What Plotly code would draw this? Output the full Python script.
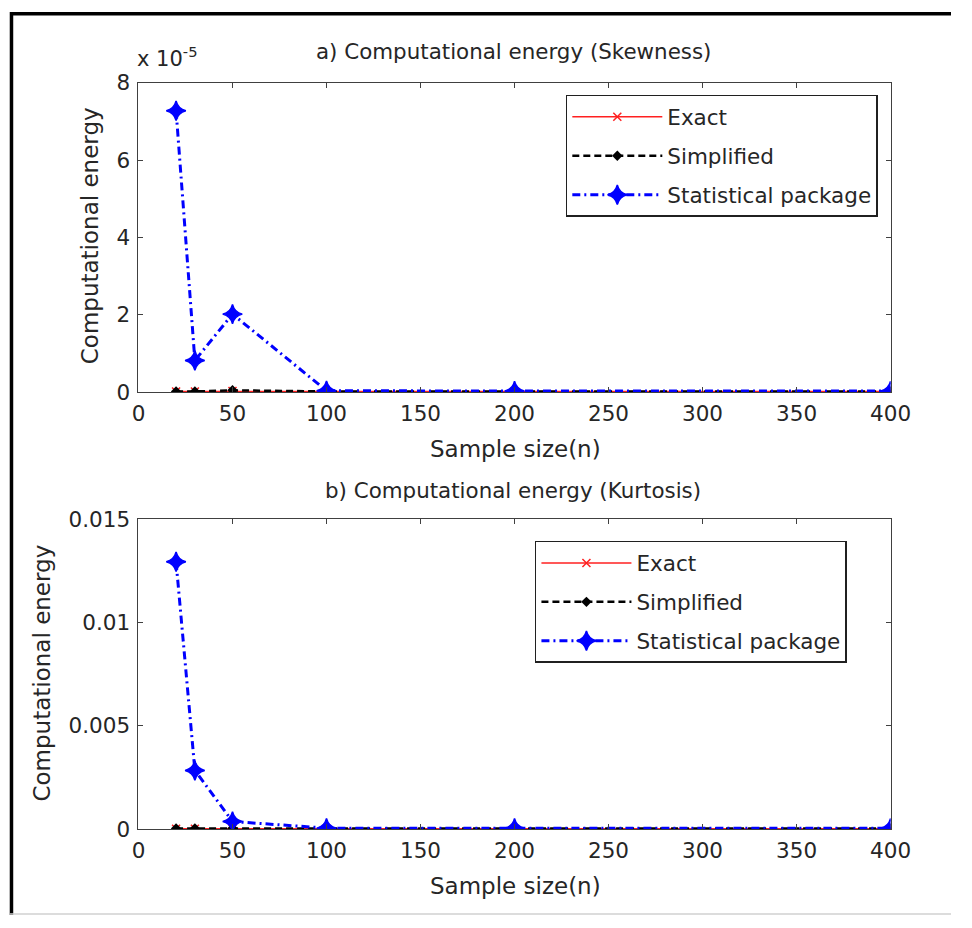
import plotly.graph_objects as go

# ---- data ----
sample_size = [20, 30, 50, 100, 200, 400]

skew_exact = [0.02e-5, 0.02e-5, 0.03e-5, 0.02e-5, 0.02e-5, 0.02e-5]
skew_simplified = [0.02e-5, 0.02e-5, 0.05e-5, 0.02e-5, 0.02e-5, 0.02e-5]
skew_stat = [7.28e-5, 0.82e-5, 2.02e-5, 0.04e-5, 0.03e-5, 0.03e-5]

kurt_exact = [0.00003, 0.00003, 0.00003, 0.00003, 0.00003, 0.00003]
kurt_simplified = [0.00004, 0.00004, 0.00005, 0.00004, 0.00004, 0.00004]
kurt_stat = [0.01293, 0.00285, 0.00038, 0.00006, 0.00005, 0.00005]

x_ticks = [0, 50, 100, 150, 200, 250, 300, 350, 400]
skew_ticks = [0, 2e-5, 4e-5, 6e-5, 8e-5]
skew_ticktext = ["0", "2", "4", "6", "8"]
kurt_ticks = [0, 0.005, 0.01, 0.015]
kurt_ticktext = ["0", "0.005", "0.01", "0.015"]

series_names = ["Exact", "Simplified", "Statistical package"]

W, H = 972, 928
FONT = "DejaVu Sans, Liberation Sans, Arial, sans-serif"
TXT = "#262626"

# map target picture pixels to paper fractions (the page is photographed
# slightly scaled and offset)
SC, OX, OY = 0.975, 5.0, 10.0

def px(v):
    return ((v - OX) / SC) / W

def py(v):
    return 1 - ((v - OY) / SC) / H

fig = go.Figure()

styles = [
    dict(line=dict(color="#ff2020", width=1.5, dash="solid"),
         marker=dict(symbol="x-thin", size=8, color="#ff2020",
                     line=dict(color="#ff2020", width=1.5))),
    dict(line=dict(color="black", width=2.5, dash="7px,4px"),
         marker=dict(symbol="diamond", size=8, color="black")),
    dict(line=dict(color="#0000ff", width=3, dash="8px,4px,2px,4px"),
         marker=dict(symbol="star-diamond", size=14, color="#0000ff",
                     line=dict(color="#0000ff", width=1.5))),
]

top_series = [skew_exact, skew_simplified, skew_stat]
bot_series = [kurt_exact, kurt_simplified, kurt_stat]

for i, (name, ys) in enumerate(zip(series_names, top_series)):
    fig.add_trace(go.Scatter(x=sample_size, y=ys, name=name, mode="lines+markers",
                             xaxis="x", yaxis="y", legend="legend",
                             legendgroup="a%d" % i, **styles[i]))
for i, (name, ys) in enumerate(zip(series_names, bot_series)):
    fig.add_trace(go.Scatter(x=sample_size, y=ys, name=name, mode="lines+markers",
                             xaxis="x2", yaxis="y2", legend="legend2",
                             legendgroup="b%d" % i, **styles[i]))

axis_common = dict(showline=True, linecolor="#404040", linewidth=1, mirror="ticks",
                   ticks="inside", ticklen=5, tickcolor="#404040", showgrid=False,
                   zeroline=False, tickfont=dict(family=FONT, size=21.5, color=TXT))

legend_common = dict(xanchor="left", yanchor="top", bordercolor="#202020",
                     borderwidth=1.5, bgcolor="white", itemwidth=90,
                     font=dict(family=FONT, size=21.5, color=TXT), tracegroupgap=8)

fig.update_layout(
    width=W, height=H,
    margin=dict(l=0, r=0, t=0, b=0),
    paper_bgcolor="white", plot_bgcolor="white",
    showlegend=True,
    xaxis=dict(domain=[px(137), px(892)], range=[0, 400], tickvals=x_ticks,
               anchor="y", ticklabelstandoff=2, **axis_common),
    yaxis=dict(domain=[py(391), py(81)], range=[0, 8e-5], tickvals=skew_ticks,
               ticktext=skew_ticktext, anchor="x", ticklabelstandoff=3, **axis_common),
    xaxis2=dict(domain=[px(137), px(892)], range=[0, 400], tickvals=x_ticks,
                anchor="y2", ticklabelstandoff=2, **axis_common),
    yaxis2=dict(domain=[py(829), py(518)], range=[0, 0.015], tickvals=kurt_ticks,
                ticktext=kurt_ticktext, anchor="x2", ticklabelstandoff=3, **axis_common),
    legend=dict(x=px(566), y=py(93), **legend_common),
    legend2=dict(x=px(535), y=py(540), **legend_common),
)

ann = [
    dict(text="a) Computational energy (Skewness)", x=px(513), y=py(50), size=21.4),
    dict(text="b) Computational energy (Kurtosis)", x=px(513), y=py(489), size=21.4),
    dict(text="Sample size(n)", x=px(515), y=py(448), size=23),
    dict(text="Sample size(n)", x=px(515), y=py(886), size=23),
]
for a in ann:
    fig.add_annotation(text=a["text"], x=a["x"], y=a["y"], xref="paper", yref="paper",
                       showarrow=False, xanchor="center", yanchor="middle",
                       font=dict(family=FONT, size=a["size"], color=TXT))

fig.add_annotation(text="Computational energy", x=px(88), y=py(234), xref="paper",
                   yref="paper", showarrow=False, textangle=-90, xanchor="center",
                   yanchor="middle", font=dict(family=FONT, size=23, color=TXT))
fig.add_annotation(text="Computational energy", x=px(40), y=py(672), xref="paper",
                   yref="paper", showarrow=False, textangle=-90, xanchor="center",
                   yanchor="middle", font=dict(family=FONT, size=23, color=TXT))
fig.add_annotation(text="x 10<sup>-5</sup>", x=px(133), y=py(55), xref="paper",
                   yref="paper", showarrow=False, xanchor="left", yanchor="middle",
                   font=dict(family=FONT, size=21, color=TXT))

# outer frame
fig.add_shape(type="line", xref="paper", yref="paper", x0=px(9.5), x1=px(9.5),
              y0=0, y1=1, line=dict(color="black", width=3.5))
fig.add_shape(type="line", xref="paper", yref="paper", x0=px(8), x1=1,
              y0=1 - 1.8 / H, y1=1 - 1.8 / H, line=dict(color="black", width=3.5))
fig.add_shape(type="line", xref="paper", yref="paper", x0=px(8), x1=1,
              y0=1 / H, y1=1 / H, line=dict(color="#d0d0d0", width=1.5))

fig.write_html("out.html")
